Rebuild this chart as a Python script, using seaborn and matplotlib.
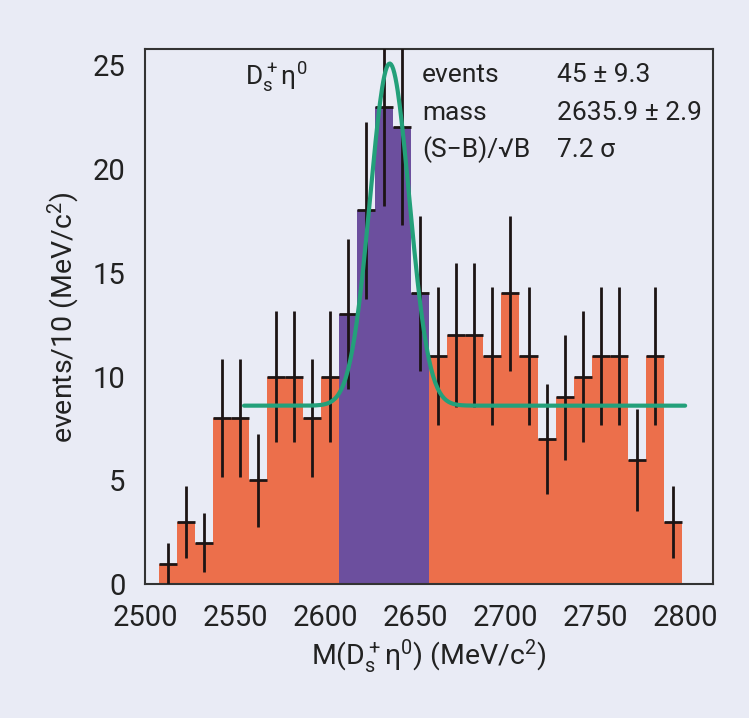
import numpy as np
import pandas as pd
import seaborn as sns
import matplotlib.pyplot as plt

# histogram bins (10 MeV wide)
bin_edges = list(range(2508, 2799, 10))
bin_centers = [e + 5 for e in bin_edges[:-1]]
counts = [1, 3, 2, 8, 8, 5, 10, 10, 8, 10,
          13, 18, 23, 22, 14,
          11, 12, 12, 11, 14, 11, 7, 9, 10, 11, 11, 6, 11, 3]
signal_lo, signal_hi = 2608, 2658

# fit result
fit_events = 45
fit_mass = 2635.9
fit_sigma = 10.9
fit_bkg = 8.6
fit_range = (2555, 2800)

info_names = ["events", "mass", "(S\u2212B)/\u221aB"]
info_values = ["45 \u00b1 9.3", "2635.9 \u00b1 2.9", "7.2 \u03c3"]

df = pd.DataFrame({"m": bin_centers, "n": counts})
df["region"] = np.where((df.m > signal_lo) & (df.m < signal_hi), "signal", "side")

sns.set_theme(style="white")
plt.rcParams["font.family"] = ["Roboto", "DejaVu Sans"]
plt.rcParams["mathtext.default"] = "regular"

bg = "#E9EBF5"
fig = plt.figure(figsize=(7.49, 7.18), dpi=100, facecolor=bg)
ax = fig.add_axes([0.1936, 0.1862, 0.7584, 0.745], facecolor=bg)

sns.histplot(data=df[df.region == "side"], x="m", weights="n", bins=bin_edges,
             color="#EC6F4B", alpha=1, linewidth=0, ax=ax)
sns.histplot(data=df[df.region == "signal"], x="m", weights="n", bins=bin_edges,
             color="#6C4F9E", alpha=1, linewidth=0, ax=ax)

ax.errorbar(df.m, df.n, xerr=5, yerr=np.sqrt(df.n), fmt="none",
            ecolor="#1c1414", elinewidth=2.0, capsize=0, zorder=3)

# fit curve: flat background + gaussian
xs = np.linspace(fit_range[0], fit_range[1], 400)
amp = fit_events * 10 / (fit_sigma * np.sqrt(2 * np.pi))
ys = fit_bkg + amp * np.exp(-0.5 * ((xs - fit_mass) / fit_sigma) ** 2)
sns.lineplot(x=xs, y=ys, color="#23A07A", linewidth=3, ax=ax, zorder=4)

ax.set_xlim(2500, 2815.5)
ax.set_ylim(0, 25.75)
ax.set_xticks([2500, 2550, 2600, 2650, 2700, 2750, 2800])
ax.set_yticks([0, 5, 10, 15, 20, 25])
ax.tick_params(axis="both", direction="out", length=10, width=1.5,
               color="#333333", labelsize=21, labelcolor="#222222", pad=4)

for s in ax.spines.values():
    s.set_color("#333333")
    s.set_linewidth(1.5)

ax.set_xlabel("M(D$_s^+$\u03b7$^0$) (MeV/c$^2$)", fontsize=20.5, color="#222222", labelpad=4)
ax.set_ylabel("events/10 (MeV/c$^2$)", fontsize=20.5, color="#222222", labelpad=8)

ax.text(0.176, 0.949, "D$_s^+$\u03b7$^0$", transform=ax.transAxes,
        fontsize=19, va="center", ha="left", color="#222222")
for i, (nm, val) in enumerate(zip(info_names, info_values)):
    y = 0.952 - i * 0.07
    ax.text(0.488, y, nm, transform=ax.transAxes, fontsize=19,
            va="center", ha="left", color="#222222")
    ax.text(0.725, y, val, transform=ax.transAxes, fontsize=19,
            va="center", ha="left", color="#222222")

fig.savefig("out.png", dpi=100, facecolor=bg)
